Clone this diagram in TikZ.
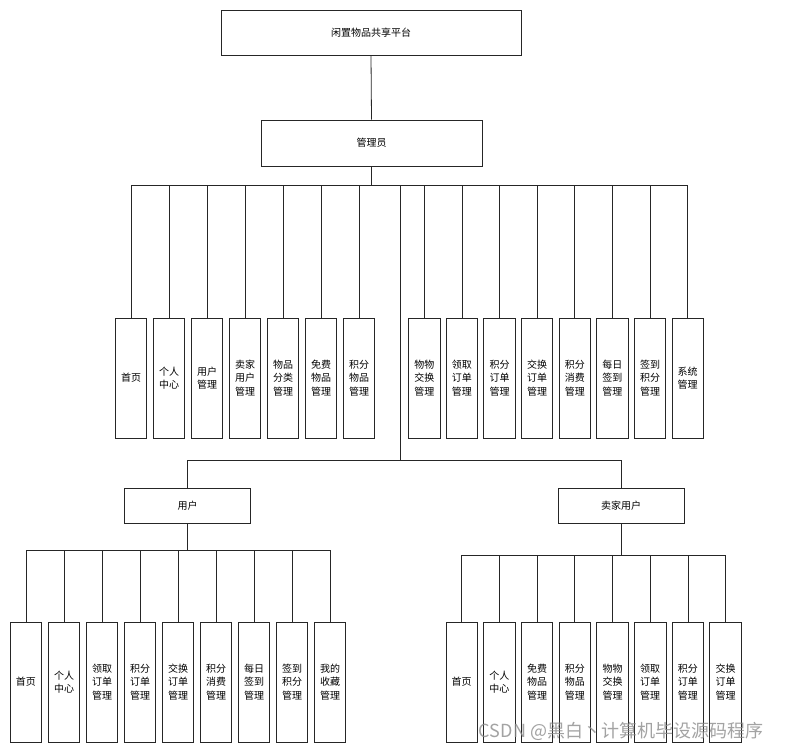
\documentclass[tikz,border=0pt]{standalone}
\usepackage{fontspec}
\setmainfont{Noto Sans CJK SC}
\newfontfamily\cjk{Noto Sans CJK SC}
\begin{document}
\begin{tikzpicture}[x=1pt,y=-1pt,
  box/.style={draw=black!85, line width=0.9pt, fill=white, inner sep=0pt, align=center,
    font=\cjk\fontsize{10}{13.5}\selectfont},
  leaf/.style={box, minimum width=31.5pt, minimum height=120pt},
  role/.style={box, minimum width=126pt, minimum height=35pt},
  conn/.style={draw=black!85, line width=0.8pt}]
\useasboundingbox (0,0) rectangle (797,751);
\fill[white] (0,0) rectangle (797,751);

% top levels
\node[box, minimum width=300pt, minimum height=45pt] (root) at (371,32.5) {闲置物品共享平台};
\node[box, minimum width=221pt, minimum height=46pt] (admin) at (371.5,143) {管理员};
\node[role] (user) at (187.5,505.5) {用户};
\node[role] (seller) at (621,505.5) {卖家用户};

% admin children
\foreach \i/\t in {0/首页,1/{个人\\中心},2/{用户\\管理},3/{卖家\\用户\\管理},4/{物品\\分类\\管理},5/{免费\\物品\\管理},6/{积分\\物品\\管理}}
  \node[leaf] (aL\i) at ({131+38*\i},378) {\t};
\foreach \i/\t in {0/{物物\\交换\\管理},1/{领取\\订单\\管理},2/{积分\\订单\\管理},3/{交换\\订单\\管理},4/{积分\\消费\\管理},5/{每日\\签到\\管理},6/{签到\\积分\\管理},7/{系统\\管理}}
  \node[leaf] (aR\i) at ({424.3+37.63*\i},378) {\t};

% user children
\foreach \i/\t in {0/首页,1/{个人\\中心},2/{领取\\订单\\管理},3/{积分\\订单\\管理},4/{交换\\订单\\管理},5/{积分\\消费\\管理},6/{每日\\签到\\管理},7/{签到\\积分\\管理},8/{我的\\收藏\\管理}}
  \node[leaf] (u\i) at ({26+38*\i},682) {\t};

% seller children
\foreach \i/\t in {0/首页,1/{个人\\中心},2/{免费\\物品\\管理},3/{积分\\物品\\管理},4/{物物\\交换\\管理},5/{领取\\订单\\管理},6/{积分\\订单\\管理},7/{交换\\订单\\管理}}
  \node[leaf] (s\i) at ({461.7+37.7*\i},682) {\t};

% coordinates
\coordinate (busA) at (371.5,185);
\coordinate (trA) at (400,185);
\coordinate (mid) at (400,460);
\coordinate (busU) at (187.5,550);
\coordinate (busS) at (621,555);

% connectors
\draw[conn] (root.south) -- (admin.north);
\draw[conn] (admin.south) -- (busA);
\foreach \i in {0,...,6} \draw[conn] (busA) -| (aL\i.north);
\foreach \i in {0,...,7} \draw[conn] (busA) -| (aR\i.north);
\draw[conn] (busA) -- (trA) -- (mid);
\draw[conn] (mid) -| (user.north);
\draw[conn] (mid) -| (seller.north);
\draw[conn] (user.south) -- (busU);
\foreach \i in {0,...,8} \draw[conn] (busU) -| (u\i.north);
\draw[conn] (seller.south) -- (busS);
\foreach \i in {0,...,7} \draw[conn] (busS) -| (s\i.north);

% watermark
\node[text=black!45, opacity=0.8, font=\cjk\fontsize{18}{20}\selectfont, inner sep=0pt] (wm) at (621,731) {CSDN @黑白丶计算机毕设源码程序};
\end{tikzpicture}
\end{document}
